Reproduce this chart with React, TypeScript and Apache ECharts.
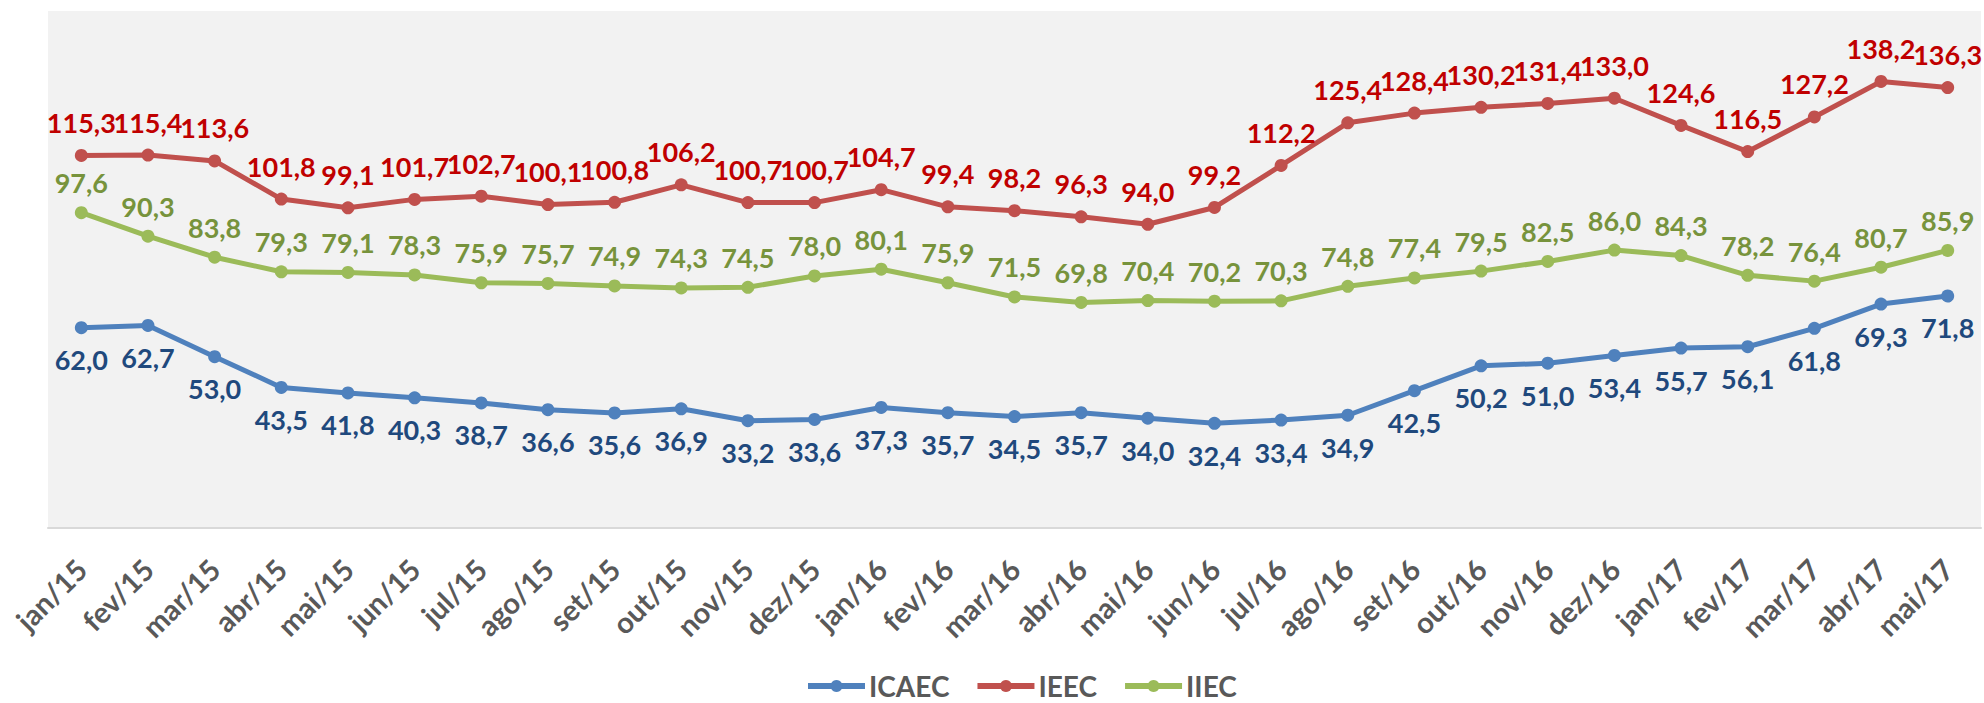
import React, { useEffect, useRef } from "react";
import * as echarts from "echarts";

const categories = [
  "jan/15", "fev/15", "mar/15", "abr/15", "mai/15", "jun/15", "jul/15", "ago/15", "set/15", "out/15", "nov/15", "dez/15",
  "jan/16", "fev/16", "mar/16", "abr/16", "mai/16", "jun/16", "jul/16", "ago/16", "set/16", "out/16", "nov/16", "dez/16",
  "jan/17", "fev/17", "mar/17", "abr/17", "mai/17",
];

const icaec = [62.0, 62.7, 53.0, 43.5, 41.8, 40.3, 38.7, 36.6, 35.6, 36.9, 33.2, 33.6, 37.3, 35.7, 34.5, 35.7, 34.0, 32.4, 33.4, 34.9, 42.5, 50.2, 51.0, 53.4, 55.7, 56.1, 61.8, 69.3, 71.8];
const ieec = [115.3, 115.4, 113.6, 101.8, 99.1, 101.7, 102.7, 100.1, 100.8, 106.2, 100.7, 100.7, 104.7, 99.4, 98.2, 96.3, 94.0, 99.2, 112.2, 125.4, 128.4, 130.2, 131.4, 133.0, 124.6, 116.5, 127.2, 138.2, 136.3];
const iiec = [97.6, 90.3, 83.8, 79.3, 79.1, 78.3, 75.9, 75.7, 74.9, 74.3, 74.5, 78.0, 80.1, 75.9, 71.5, 69.8, 70.4, 70.2, 70.3, 74.8, 77.4, 79.5, 82.5, 86.0, 84.3, 78.2, 76.4, 80.7, 85.9];

const seriesNames = ["ICAEC", "IEEC", "IIEC"];
const lineColors = ["#4F81BD", "#C0504D", "#9BBB59"];
const labelColors = ["#1F497D", "#C00000", "#77933C"];

const FONT = "Lato, 'DejaVu Sans', sans-serif";
const fmt = (v: number) => v.toFixed(1).replace(".", ",");

export default function App() {
  const ref = useRef<HTMLDivElement>(null);
  useEffect(() => {
    if (!ref.current) return;
    const chart = echarts.init(ref.current, undefined, { renderer: "svg" });
    const datasets = [icaec, ieec, iiec];
    const positions = ["bottom", "top", "top"];
    const distances = [12, 13, 10];
    chart.setOption({
      animation: false,
      backgroundColor: "#FFFFFF",
      grid: {
        left: 48,
        right: 3,
        top: 11,
        bottom: 175,
        show: true,
        backgroundColor: "#F2F2F2",
        borderWidth: 0,
      },
      legend: {
        data: seriesNames,
        left: 800,
        top: 667,
        itemWidth: 57,
        itemHeight: 15,
        itemGap: 25,
        lineStyle: { width: 6 },
        textStyle: { fontFamily: FONT, fontWeight: "bold", fontSize: 28, color: "#595959", padding: [0, 0, 0, -1] },
      },
      xAxis: {
        type: "category",
        data: categories,
        boundaryGap: true,
        axisLine: { lineStyle: { color: "#D9D9D9", width: 2 } },
        axisTick: { show: false },
        axisLabel: {
          interval: 0,
          rotate: 45,
          margin: 36,
          fontFamily: FONT,
          fontWeight: "bold",
          fontSize: 29,
          color: "#595959",
        },
      },
      yAxis: {
        type: "value",
        min: 0,
        max: 160,
        show: false,
        splitLine: { show: false },
      },
      series: datasets.map((d, i) => ({
        name: seriesNames[i],
        type: "line",
        data: d,
        symbol: "circle",
        symbolSize: 13,
        lineStyle: { color: lineColors[i], width: 5 },
        itemStyle: { color: lineColors[i] },
        label: {
          show: true,
          position: positions[i],
          distance: distances[i],
          formatter: (p: any) => fmt(p.value),
          fontFamily: FONT,
          fontWeight: "bold",
          fontSize: 27,
          color: labelColors[i],
        },
        z: 2 + i,
      })),
    });
    return () => chart.dispose();
  }, []);
  return (
    <div
      ref={ref}
      style={{ position: "absolute", left: 0, top: 0, width: 1984, height: 703 }}
    />
  );
}
